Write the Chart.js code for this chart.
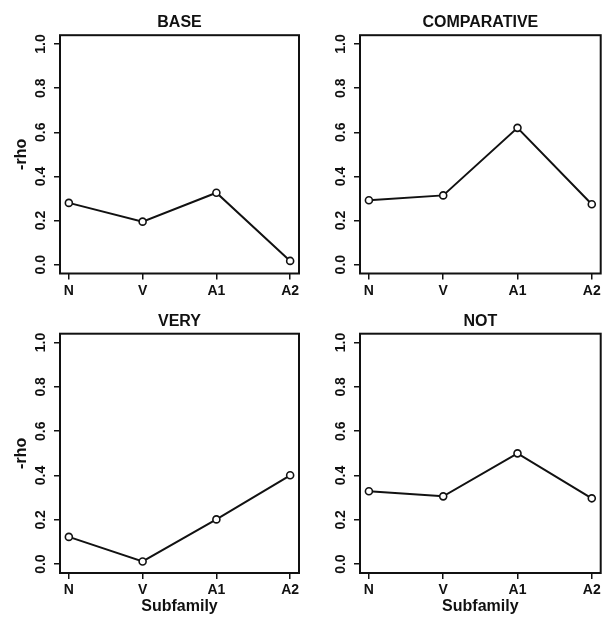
<!DOCTYPE html>
<html>
<head>
<meta charset="utf-8">
<script src="https://cdn.jsdelivr.net/npm/chart.js@4.4.1/dist/chart.umd.min.js"></script>
<style>
  html, body { margin: 0; padding: 0; background: #fff; }
  #wrap { position: relative; width: 602px; height: 617px; overflow: hidden; }
  canvas { position: absolute; }
</style>
</head>
<body>
<div id="wrap">
  <canvas id="c0" width="300" height="300" style="left:0;top:0"></canvas>
  <canvas id="c1" width="302" height="300" style="left:300px;top:0"></canvas>
  <canvas id="c2" width="300" height="317" style="left:0;top:300px"></canvas>
  <canvas id="c3" width="302" height="317" style="left:300px;top:300px"></canvas>
</div>
<script>
// ---- data ----
const categories = ['N', 'V', 'A1', 'A2'];
const yTickValues = [0.0, 0.2, 0.4, 0.6, 0.8, 1.0];
const panelTitles = ['BASE', 'COMPARATIVE', 'VERY', 'NOT'];
const baseValues = [0.280, 0.195, 0.326, 0.017];
const comparativeValues = [0.292, 0.314, 0.620, 0.274];
const veryValues = [0.123, 0.012, 0.202, 0.401];
const notValues = [0.329, 0.306, 0.500, 0.297];
const yAxisLabel = '-rho';
const xAxisLabel = 'Subfamily';

const seriesList = [baseValues, comparativeValues, veryValues, notValues];

// ---- styling / layout ----
const FONT = '"Liberation Sans", Arial, Helvetica, sans-serif';
const INK = '#111';

const boxPlugin = {
  id: 'box',
  beforeDatasetsDraw(chart) {
    const a = chart.chartArea;
    const ctx = chart.ctx;
    ctx.save();
    ctx.strokeStyle = INK;
    ctx.lineWidth = 2;
    ctx.strokeRect(a.left, a.top, a.right - a.left, a.bottom - a.top);
    ctx.restore();
  }
};

function makePanel(idx) {
  const isLeft = idx % 2 === 0;
  const isBottom = idx >= 2;
  const canvas = document.getElementById('c' + idx);
  const values = seriesList[idx];
  const xAxisHeight = isBottom ? 44 : 26.5;
  const titlePad = isBottom ? {top: 12, bottom: 2.5} : {top: 13, bottom: 3};

  new Chart(canvas, {
    type: 'line',
    data: {
      datasets: [{
        data: values.map((v, i) => ({x: i + 1, y: v})),
        borderColor: INK,
        borderWidth: 2,
        pointRadius: 3.5,
        pointBorderWidth: 1.6,
        pointBackgroundColor: '#fff',
        pointBorderColor: INK,
        tension: 0,
        clip: false
      }]
    },
    options: {
      responsive: false,
      animation: false,
      devicePixelRatio: 1,
      layout: { autoPadding: false, padding: { left: 0, right: isLeft ? 1 : 1.3, top: 0, bottom: 0 } },
      plugins: {
        legend: { display: false },
        tooltip: { enabled: false },
        title: {
          display: true,
          fullSize: false,
          text: panelTitles[idx],
          color: INK,
          font: { family: FONT, size: 16, weight: 'bold' },
          padding: titlePad
        }
      },
      scales: {
        x: {
          type: 'linear',
          min: 0.88,
          max: 4.12,
          afterBuildTicks(s) { s.ticks = categories.map((c, i) => ({value: i + 1})); },
          afterFit(s) { s.height = xAxisHeight; s.paddingLeft = 0; s.paddingRight = 0; },
          grid: { drawOnChartArea: false, drawTicks: true, tickLength: 6, color: INK, lineWidth: 1.5 },
          border: { display: false },
          ticks: {
            color: INK,
            padding: 3,
            maxRotation: 0,
            minRotation: 0,
            font: { family: FONT, size: 14, weight: 'bold' },
            callback: (v) => categories[Math.round(v) - 1]
          },
          title: {
            display: isBottom,
            text: xAxisLabel,
            color: INK,
            font: { family: FONT, size: 16, weight: 'bold' },
            padding: { top: 0, bottom: 1 }
          }
        },
        y: {
          type: 'linear',
          min: -0.04,
          max: 1.04,
          afterBuildTicks(s) { s.ticks = yTickValues.map(v => ({value: v})); },
          afterFit(s) { s.width = 60; s.paddingTop = 0; s.paddingBottom = 0; },
          grid: { drawOnChartArea: false, drawTicks: true, tickLength: 6, color: INK, lineWidth: 1.5 },
          border: { display: false },
          ticks: {
            color: INK,
            padding: 3,
            minRotation: 90,
            maxRotation: 90,
            crossAlign: 'center',
            font: { family: FONT, size: 14, weight: 'bold' },
            callback: (v) => Number(v).toFixed(1)
          },
          title: {
            display: isLeft,
            text: yAxisLabel,
            color: INK,
            font: { family: FONT, size: 16, weight: 'bold' },
            padding: { top: 12, bottom: 0 }
          }
        }
      }
    },
    plugins: [boxPlugin]
  });
}

[0, 1, 2, 3].forEach(makePanel);
</script>
</body>
</html>
